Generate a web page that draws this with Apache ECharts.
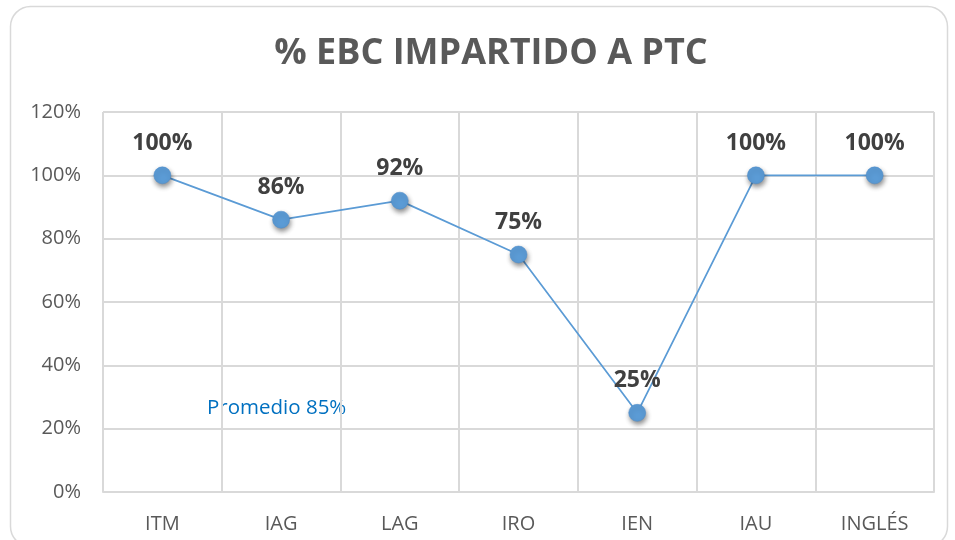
<!DOCTYPE html>
<html>
<head>
<meta charset="utf-8">
<script src="https://cdn.jsdelivr.net/npm/echarts@6/dist/echarts.min.js"></script>
<style>html,body{margin:0;padding:0;background:#fff;}#c{width:955px;height:540px;}</style>
</head>
<body>
<div id="c"></div>
<script>
const categories = ['ITM', 'IAG', 'LAG', 'IRO', 'IEN', 'IAU', 'INGLÉS'];
const values = [100, 86, 92, 75, 25, 100, 100];
const yTicks = [0, 20, 40, 60, 80, 100, 120];
const titleText = '% EBC IMPARTIDO A PTC';
const noteText = 'Promedio 85%';

const chart = echarts.init(document.getElementById('c'), null, {renderer: 'canvas'});
const font = '"Open Sans", "Liberation Sans", sans-serif';
chart.setOption({
  animation: false,
  backgroundColor: '#fff',
  title: {
    text: titleText,
    left: 486, top: 31, textAlign: 'center',
    textStyle: {fontFamily: font, fontSize: 36, fontWeight: 'bold', color: '#595959'}
  },
  graphic: [
    {type: 'rect', shape: {x: 10.5, y: 6.5, width: 937, height: 540, r: 20}, style: {fill: 'none', stroke: '#D9D9D9', lineWidth: 1.5}, z: -1},
    {type: 'text', left: 207, top: 398, style: {text: noteText, fill: '#0070C0', font: '20.5px ' + font}}
  ],
  grid: {left: 103, right: 21, top: 112, bottom: 48},
  xAxis: {
    type: 'category', data: categories, boundaryGap: true,
    axisLine: {show: true, lineStyle: {color: '#D9D9D9', width: 2}},
    axisTick: {show: false},
    splitLine: {show: true, lineStyle: {color: '#D9D9D9', width: 2}},
    axisLabel: {color: '#595959', fontFamily: font, fontSize: 20, margin: 22}
  },
  yAxis: {
    type: 'value', min: yTicks[0], max: yTicks[yTicks.length - 1], interval: 20,
    axisLine: {show: false}, axisTick: {show: false},
    splitLine: {lineStyle: {color: '#D9D9D9', width: 2}},
    axisLabel: {color: '#595959', fontFamily: font, fontSize: 20, margin: 22, formatter: v => v + '%'}
  },
  series: [{
    type: 'line', data: values,
    symbol: 'circle', symbolSize: 17,
    lineStyle: {color: '#5B9BD5', width: 1.75},
    itemStyle: {color: '#5B9BD5', borderColor: '#4A8BCB', borderWidth: 0.5, shadowColor: 'rgba(0,0,0,0.45)', shadowBlur: 5, shadowOffsetX: 1, shadowOffsetY: 3},
    label: {show: true, position: 'top', distance: 12, formatter: p => p.value + '%', color: '#404040', fontFamily: font, fontSize: 23, fontWeight: 'bold'}
  }]
});
</script>
</body>
</html>
